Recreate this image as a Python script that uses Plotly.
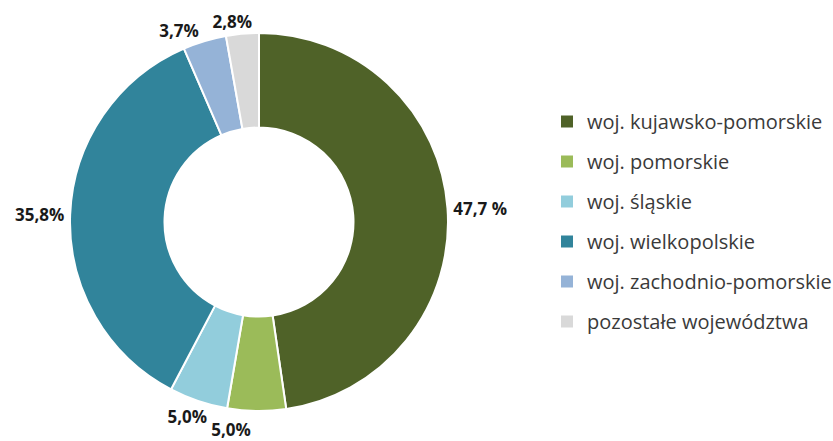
import plotly.graph_objects as go

categories = ["woj. kujawsko-pomorskie", "woj. pomorskie", "woj. śląskie",
              "woj. wielkopolskie", "woj. zachodnio-pomorskie", "pozostałe województwa"]
values = [47.7, 5.0, 5.0, 35.8, 3.7, 2.8]
value_labels = ["47,7 %", "5,0%", "5,0%", "35,8%", "3,7%", "2,8%"]
colors = ["#4F6228", "#9BBB59", "#92CDDC", "#31849B", "#95B3D7", "#D9D9D9"]

W, H = 833, 441
cx, cy, r = 259, 222, 189


def domain(pull=0.0):
    R = r * (1 + pull)
    return dict(x=[(cx - R) / W, (cx + R) / W], y=[(H - cy - R) / H, (H - cy + R) / H])


tfont = dict(family="Open Sans", size=17, color="#1a1a1a", weight="bold")

# which labels each pie layer carries (separate layers keep plotly from shifting
# neighbouring outside labels); layer settings: (label indices, rotation, pull)
layers = [
    ([0, 3, 4], 0, 0.0),   # visible donut
    ([5], 4.7, 0.0),       # 2,8%
    ([2], -4.6, 0.0),      # 5,0% śląskie
    ([1], 0, 0.035),       # 5,0% pomorskie
]

fig = go.Figure()
for k, (idx, rot, pull) in enumerate(layers):
    visible = k == 0
    fig.add_trace(go.Pie(
        labels=categories, values=values, text=value_labels,
        texttemplate="%{text}", textinfo="text",
        textposition=["outside" if i in idx else "none" for i in range(len(values))],
        textfont=tfont,
        marker=dict(colors=colors if visible else ["rgba(0,0,0,0)"] * len(values),
                    line=dict(color="white", width=2 if visible else 0)),
        hole=0.5, sort=False, direction="clockwise", rotation=rot,
        pull=[pull if i in idx else 0 for i in range(len(values))] if pull else 0,
        showlegend=False, automargin=False,
        hoverinfo="label+percent" if visible else "skip",
        domain=domain(pull),
    ))

for name, c in zip(categories, colors):
    fig.add_trace(go.Scatter(
        x=[None], y=[None], mode="markers", name=name, legendgroup=name,
        marker=dict(symbol="square", size=12, color=c),
        showlegend=True,
    ))

fig.update_layout(
    width=W, height=H, margin=dict(l=0, r=0, t=0, b=0, autoexpand=False),
    paper_bgcolor="white", plot_bgcolor="white",
    xaxis=dict(visible=False), yaxis=dict(visible=False),
    legend=dict(
        x=547 / W, xanchor="left", y=1 - 102 / H, yanchor="top",
        font=dict(family="Open Sans", size=20, color="#3a3a3a"),
        tracegroupgap=11, bgcolor="rgba(0,0,0,0)",
    ),
)
fig.write_html("out.html", config={"displayModeBar": False},
               post_script="document.body.style.margin='0';")
